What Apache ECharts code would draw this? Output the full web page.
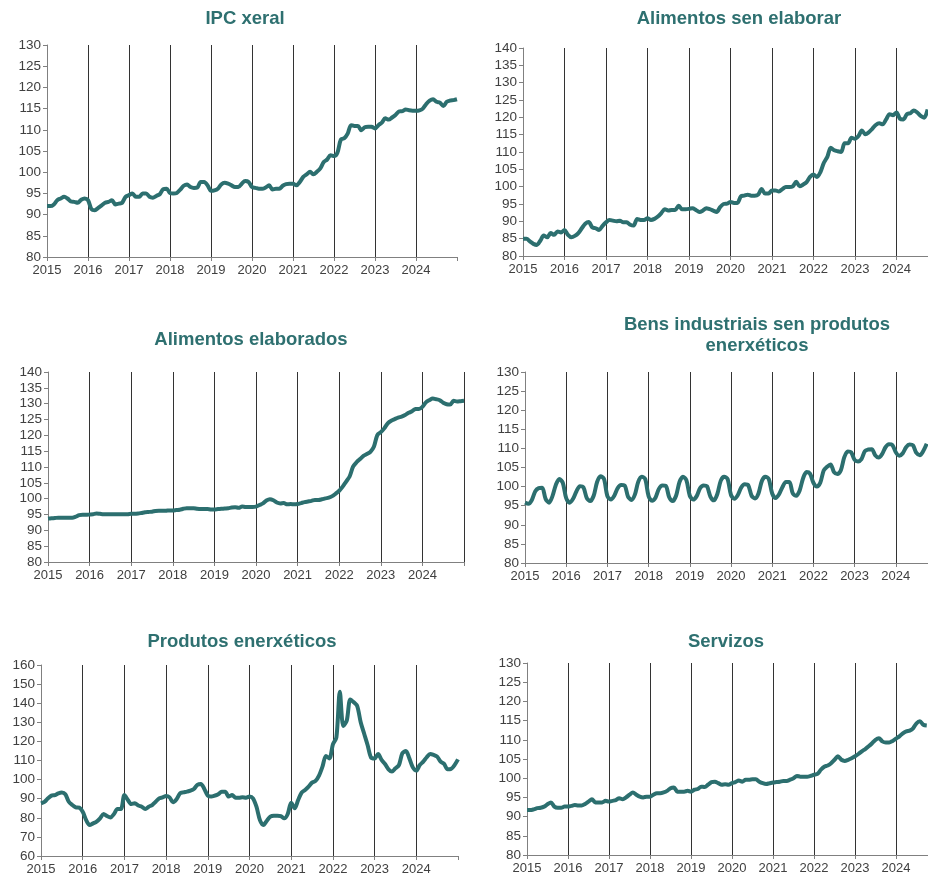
<!DOCTYPE html>
<html>
<head>
<meta charset="utf-8">
<title>IPC Galicia</title>
<script src="https://cdn.jsdelivr.net/npm/echarts@6/dist/echarts.min.js"></script>
<style>
    html, body {
        margin: 0;
        padding: 0;
        background: #fff;
    }

    #chart {
        width: 928px;
        height: 877px;
    }
</style>
</head>
<body>
<div id="chart"></div>
<script>
    // anos do eixo X (un punto por mes, de xan. 2015 a xan. 2025)
    const years = [2015, 2016, 2017, 2018, 2019, 2020, 2021, 2022, 2023, 2024, 2025]
    const months = []
    for (let y of years) {
        for (let m = 1; m <= 12; m++) {
            if (y === 2025 && m > 1) break
            months.push(y + '-' + (m < 10 ? '0' + m : m))
        }
    }

    const titles = ['IPC xeral', 'Alimentos sen elaborar', 'Alimentos elaborados',
        'Bens industriais sen produtos\nenerxéticos', 'Produtos enerxéticos', 'Servizos']

    const ipcXeral = [
        92.0, 92.0, 92.4, 93.4, 93.8, 94.2, 93.8, 93.1, 93.0, 92.8, 93.5, 93.8,
        93.4, 91.3, 91.0, 91.6, 92.2, 92.8, 93.0, 93.4, 92.4, 92.6, 92.8, 94.2,
        94.6, 95.0, 94.2, 94.2, 95.0, 95.0, 94.2, 94.0, 94.4, 94.8, 96.0, 96.1,
        95.1, 95.0, 95.1, 95.9, 96.8, 97.1, 96.5, 96.3, 96.4, 97.7, 97.7, 96.9,
        95.6, 95.7, 96.1, 97.1, 97.5, 97.3, 96.9, 96.5, 96.5, 97.3, 97.9, 97.7,
        96.5, 96.3, 96.1, 96.1, 96.4, 96.9, 95.9, 96.1, 96.1, 96.8, 97.2, 97.3,
        97.3, 96.9, 97.7, 98.9, 99.5, 100.1, 99.5, 100.1, 100.9, 102.4, 103.0, 104.0,
        103.8, 104.6, 107.7, 108.0, 109.1, 111.1, 110.9, 110.9, 109.9, 110.6, 110.7, 110.7,
        110.3, 111.1, 111.7, 112.7, 112.4, 112.9, 113.5, 114.3, 114.4, 114.8, 114.6, 114.5,
        114.5, 114.6, 115.0, 116.1, 116.9, 117.2, 116.6, 116.4, 115.6, 116.6, 116.9, 117.0,
        117.2
    ]

    const alimentosSenElaborar = [
        85.0, 85.0, 84.2, 83.5, 83.2, 84.4, 85.9, 85.4, 86.6, 86.1, 87.1, 86.8,
        87.5, 86.1, 85.4, 85.8, 86.6, 88.0, 89.3, 89.8, 88.3, 88.0, 87.5, 88.7,
        89.7, 90.4, 90.2, 90.0, 90.2, 89.7, 89.7, 89.0, 88.8, 90.7, 90.4, 90.4,
        90.9, 90.4, 90.7, 91.4, 92.4, 93.5, 93.1, 93.3, 93.3, 94.5, 93.5, 93.5,
        93.6, 93.8, 93.3, 92.7, 93.1, 93.8, 93.5, 93.1, 92.7, 94.1, 95.0, 95.1,
        95.6, 95.3, 95.3, 97.2, 97.4, 97.7, 97.4, 97.4, 97.7, 99.3, 98.0, 98.0,
        98.9, 98.9, 98.6, 99.3, 99.9, 99.9, 100.1, 101.4, 100.1, 100.6, 101.3, 102.8,
        103.5, 102.8, 104.2, 106.9, 108.6, 111.2, 110.5, 110.2, 110.0, 112.5, 112.5, 114.1,
        113.8, 114.6, 116.2, 115.1, 115.7, 116.7, 117.8, 118.3, 118.0, 119.4, 120.9, 120.6,
        121.4, 119.6, 119.4, 120.9, 121.2, 122.0, 121.4, 120.4, 119.9, 122.3
    ]

    const alimentosElaborados = [
        93.7, 93.8, 93.9, 94.0, 94.0, 94.0, 94.0, 94.0, 94.3, 94.8, 94.9, 94.9,
        95.0, 95.1, 95.3, 95.2, 95.1, 95.1, 95.1, 95.1, 95.1, 95.1, 95.1, 95.1,
        95.2, 95.2, 95.3, 95.5, 95.7, 95.8, 95.9, 96.1, 96.2, 96.2, 96.2, 96.3,
        96.3, 96.4, 96.5, 96.8, 97.0, 97.0, 97.0, 96.8, 96.7, 96.7, 96.7, 96.6,
        96.6, 96.7, 96.8, 96.9, 97.0, 97.2, 97.3, 97.1, 97.5, 97.4, 97.4, 97.4,
        97.5, 98.0, 98.5, 99.4, 99.8, 99.5, 98.8, 98.5, 98.6, 98.2, 98.3, 98.2,
        98.3, 98.6, 98.9, 99.1, 99.3, 99.6, 99.6, 99.8, 100.1, 100.3, 100.8, 101.6,
        102.5, 103.8, 105.4, 107.0, 110.1, 111.5, 112.5, 113.5, 114.1, 114.8, 116.4, 120.1,
        121.0, 122.2, 123.8, 124.6, 125.1, 125.6, 125.9, 126.4, 127.1, 127.6, 128.3, 128.3,
        129.0, 130.4, 131.1, 131.6, 131.4, 131.1, 130.3, 129.8, 129.7, 130.9, 130.7, 130.8,
        130.9
    ]

    const bensIndustriais = [
        95.8, 95.5, 96.5, 98.8, 99.6, 99.7, 96.8, 95.8, 97.5, 100.5, 102.0, 101.0,
        97.0, 95.8, 96.8, 98.8, 100.1, 99.8, 97.0, 96.2, 97.6, 101.2, 102.7, 102.0,
        97.5, 96.6, 97.6, 99.6, 100.4, 100.3, 97.4, 96.5, 97.9, 101.3, 102.6, 102.0,
        97.5, 96.3, 97.1, 99.4, 100.3, 100.2, 97.2, 96.2, 97.6, 101.2, 102.6, 101.7,
        97.6, 96.6, 97.5, 99.6, 100.3, 100.1, 97.4, 96.4, 98.0, 101.5, 102.6, 102.0,
        97.8, 96.8, 97.8, 99.8, 100.6, 100.4, 97.6, 96.9, 98.2, 101.5, 102.6, 102.0,
        98.2, 97.0, 98.0, 99.9, 101.2, 101.2, 98.2, 97.6, 99.0, 102.2, 103.8, 103.4,
        101.0, 100.0, 101.0, 104.2, 105.2, 105.8, 103.8, 103.3, 104.3, 107.7, 109.2, 109.0,
        107.0, 106.6, 107.2, 109.3, 109.7, 109.8, 108.2, 107.6, 108.5, 110.3, 111.1, 110.9,
        109.0, 108.1, 108.7, 110.3, 111.0, 110.8, 108.8, 108.2, 109.3, 111.2
    ]

    const produtosEnerxeticos = [
        87.6, 88.4, 90.2, 91.6, 91.9, 92.8, 93.2, 92.3, 88.4, 86.7, 85.5, 85.3,
        83.2, 78.8, 76.2, 77.1, 78.0, 79.7, 82.0, 80.9, 80.2, 82.0, 84.6, 84.6,
        91.9, 89.3, 87.2, 87.6, 86.4, 85.8, 84.6, 85.8, 86.7, 88.4, 90.2, 90.7,
        91.4, 90.7, 88.1, 89.7, 92.8, 93.3, 93.7, 94.2, 95.1, 97.2, 97.7, 95.1,
        91.6, 91.1, 91.6, 92.3, 93.7, 93.7, 91.1, 91.9, 90.5, 90.5, 90.7, 90.5,
        91.1, 90.2, 85.8, 78.8, 76.2, 78.5, 80.6, 81.1, 81.1, 80.9, 79.7, 82.0,
        87.9, 85.0, 89.3, 93.2, 94.6, 96.3, 98.4, 99.3, 102.1, 106.8, 112.4, 111.1,
        118.5, 122.0, 146.0, 128.0, 131.0, 142.0, 140.5, 138.5, 130.0, 124.0, 118.0, 111.5,
        111.1, 113.4, 110.3, 108.2, 105.4, 104.2, 105.9, 107.6, 113.8, 115.0, 111.1, 106.4,
        104.7, 107.6, 109.4, 111.7, 113.4, 112.9, 112.0, 109.4, 108.2, 105.4, 105.6, 107.6,
        110.6
    ]

    const servizos = [
        91.7, 91.7, 91.9, 92.2, 92.3, 92.6, 93.2, 93.7, 92.6, 92.3, 92.3, 92.6,
        92.6, 92.8, 93.0, 92.9, 92.9, 93.3, 93.9, 94.5, 93.7, 93.7, 93.7, 94.1,
        93.9, 94.1, 94.3, 94.8, 94.5, 95.0, 95.7, 96.3, 95.7, 95.2, 95.0, 95.2,
        95.2, 95.7, 96.1, 96.1, 96.3, 96.7, 97.4, 97.6, 96.5, 96.5, 96.5, 96.7,
        96.5, 97.0, 97.2, 97.8, 97.7, 98.3, 99.0, 99.1, 98.7, 98.3, 98.4, 98.3,
        98.7, 99.0, 99.4, 99.1, 99.6, 99.6, 99.7, 99.7, 99.1, 98.7, 98.5, 98.7,
        98.9, 99.0, 99.1, 99.3, 99.3, 99.6, 100.0, 100.6, 100.4, 100.4, 100.4, 100.6,
        100.9, 101.1, 102.2, 103.0, 103.3, 103.9, 104.8, 105.7, 104.8, 104.5, 104.8, 105.2,
        105.7, 106.3, 107.0, 107.6, 108.3, 109.1, 110.0, 110.4, 109.6, 109.3, 109.3, 109.7,
        110.3, 110.9, 111.7, 112.2, 112.4, 113.0, 114.3, 114.8, 113.9, 113.7
    ]

    const seriesList = [ipcXeral, alimentosSenElaborar, alimentosElaborados,
        bensIndustriais, produtosEnerxeticos, servizos]
    // [min, max, paso] de cada eixo Y
    const yRanges = [[80, 130, 5], [80, 140, 5], [80, 140, 5], [80, 130, 5], [60, 160, 10], [80, 130, 5]]

    // posicions dos seis paneis (os da dereita saen un pouco do lenzo, coma no orixinal)
    const grids = [
        { left: 47, top: 45, width: 410, height: 212 },
        { left: 523, top: 48, width: 415, height: 208 },
        { left: 48, top: 372, width: 416, height: 190 },
        { left: 525, top: 372, width: 412, height: 191 },
        { left: 41, top: 665, width: 417, height: 191 },
        { left: 527, top: 663, width: 410, height: 192 }
    ]
    const titlePos = [[245, 8], [739, 8], [251, 329], [757, 314], [242, 631], [726, 631]]

    const teal = '#2C6F6F'
    const font = '"Liberation Sans", Arial, sans-serif'
    const yearTick = (i) => i % 12 === 0
    const yearLabel = (i) => i % 12 === 0 && i < 120

    let myChart = echarts.init(document.getElementById('chart'))
    let option = {
        animation: false,
        backgroundColor: '#fff',
        title: titles.map((t, i) => ({
            text: t,
            left: titlePos[i][0],
            top: titlePos[i][1],
            textAlign: 'center',
            padding: 0,
            textStyle: {
                color: '#2E7070',
                fontSize: 18.5,
                fontWeight: 'bold',
                fontFamily: font,
                lineHeight: 21
            }
        })),
        grid: grids.map((g) => Object.assign({ outerBoundsMode: 'none', containLabel: false }, g)),
        xAxis: grids.map((g, i) => ({
            type: 'category',
            gridIndex: i,
            data: months,
            boundaryGap: false,
            axisLine: { lineStyle: { color: '#808080', width: 1 } },
            axisTick: { show: true, interval: yearTick, length: 4, lineStyle: { color: '#808080' } },
            axisLabel: {
                interval: yearLabel,
                formatter: (v) => v.slice(0, 4),
                fontSize: 13,
                color: '#404040',
                fontFamily: font,
                margin: 7
            },
            splitLine: {
                show: true,
                // o panel de alimentos elaborados leva tamén a liña de 2025
                interval: (k) => k % 12 === 0 && k > 0 && (k < 120 || i === 2),
                lineStyle: { color: '#333', width: 1 }
            }
        })),
        yAxis: grids.map((g, i) => ({
            type: 'value',
            gridIndex: i,
            min: yRanges[i][0],
            max: yRanges[i][1],
            interval: yRanges[i][2],
            axisLine: { show: true, lineStyle: { color: '#808080', width: 1 } },
            axisTick: { show: true, length: 4, lineStyle: { color: '#808080' } },
            axisLabel: { fontSize: 13.5, color: '#404040', fontFamily: font, margin: 6 },
            splitLine: { show: false }
        })),
        series: seriesList.map((d, i) => ({
            type: 'line',
            xAxisIndex: i,
            yAxisIndex: i,
            data: d,
            showSymbol: false,
            smooth: 0.3,
            silent: true,
            lineStyle: { color: teal, width: 4 }
        }))
    }
    myChart.setOption(option)
</script>
</body>
</html>
